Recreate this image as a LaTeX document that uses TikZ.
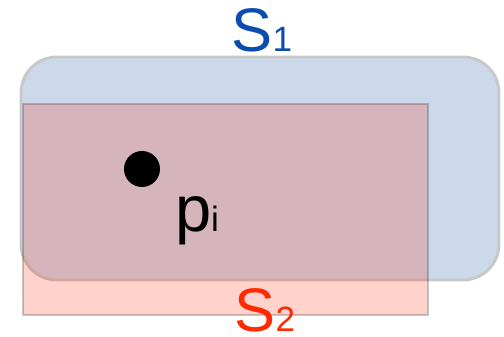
\documentclass[tikz,border=0pt]{standalone}
\usepackage{fontspec}
\setmainfont{Liberation Sans}

\definecolor{setblue}{RGB}{203,217,235}
\definecolor{setred}{RGB}{255,35,0}
\definecolor{labelblue}{RGB}{11,77,173}
\definecolor{labelred}{RGB}{255,42,0}
\definecolor{edgegray}{RGB}{200,200,200}

\tikzset{
  setlabel/.style={anchor=base,inner sep=0pt,font=\fontsize{35}{35}\selectfont}
}

\begin{document}
\begin{tikzpicture}[x=0.02cm,y=-0.02cm]
  \useasboundingbox (0,0) rectangle (504,337);

  % S1: rounded blue box
  \filldraw[fill=setblue,draw=edgegray,line width=1.7pt,rounded corners=0.72cm] (21,57) rectangle (499,280);
  % S2: see-through red box on top
  \filldraw[fill=setred,fill opacity=0.2,draw=black!85,draw opacity=0.25,line width=1.4pt] (23,104) rectangle (428,315);

  % set names
  \node[setlabel,text=labelblue] (s1label) at (262,52) {S{\fontsize{20}{20}\selectfont 1}};
  \node[setlabel,text=labelred]  (s2label) at (265,332) {S{\fontsize{20}{20}\selectfont 2}};

  % the point and its name
  \node[circle,fill=black,inner sep=0pt,minimum size=0.72cm] (pi) at (142,169) {};
  \node[anchor=base,inner sep=0pt,font=\fontsize{37}{37}\selectfont] (pilabel) at (197,232) {p{\fontsize{20}{20}\selectfont i}};
\end{tikzpicture}
\end{document}
